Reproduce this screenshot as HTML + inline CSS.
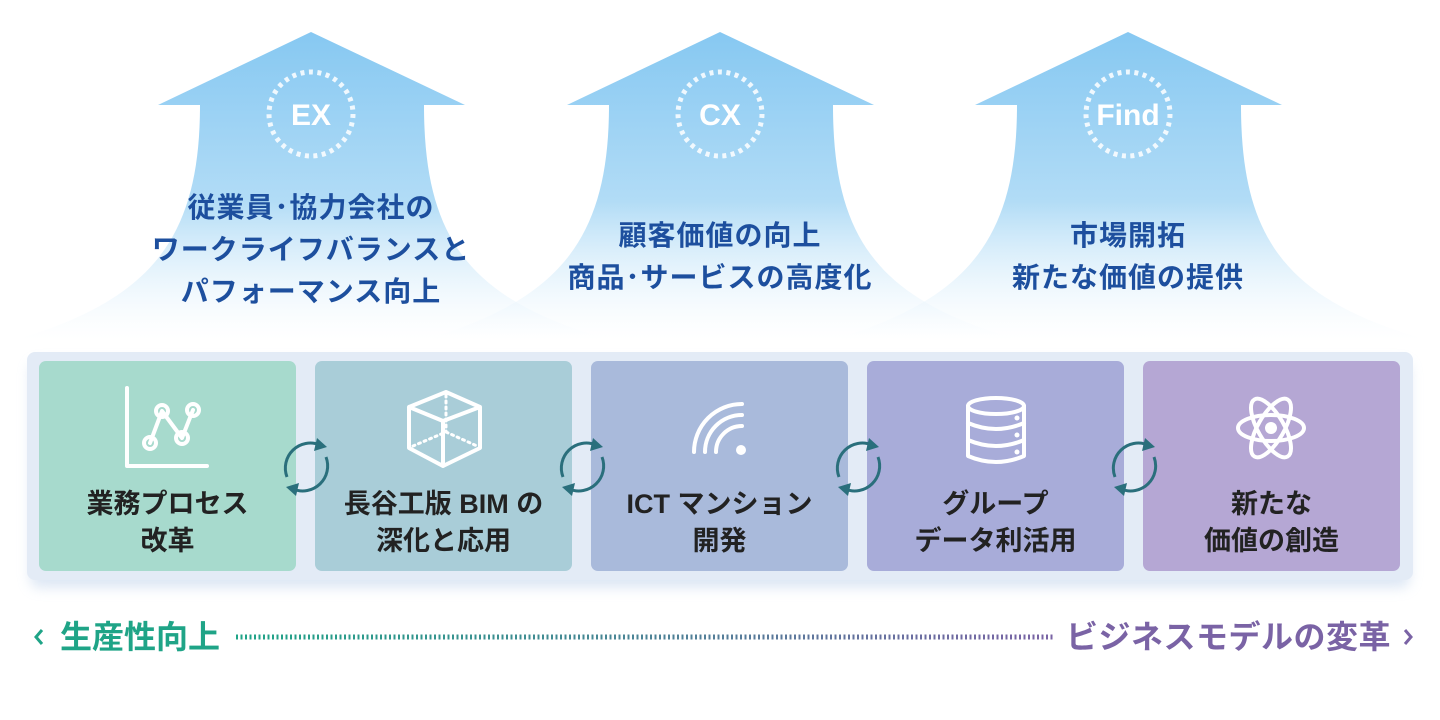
<!DOCTYPE html>
<html><head><meta charset="utf-8"><style>
body{margin:0;width:1440px;height:720px;background:#fff;overflow:hidden;position:relative;font-family:"Liberation Sans","Noto Sans CJK JP",sans-serif}
.t{position:absolute;text-align:center;font-weight:bold;color:#1d4f9e;font-size:28px;line-height:42px;width:440px;letter-spacing:1px}
.b{position:absolute;text-align:center;font-weight:bold;color:#222;font-size:27px;line-height:37px;width:257px;top:486px}
.lbl{position:absolute;font-weight:bold;font-size:32px;top:616px;line-height:42px}
</style></head><body>
<svg width="1440" height="720" style="position:absolute;left:0;top:0">
<defs>
<linearGradient id="g" x1="0" y1="0" x2="0" y2="1">
<stop offset="0" stop-color="#79c2f0"/><stop offset="0.55" stop-color="#a9d8f5"/><stop offset="1" stop-color="#ffffff" stop-opacity="0.3"/></linearGradient>
<filter id="sh" x="-10%" y="-10%" width="120%" height="130%"><feGaussianBlur stdDeviation="6"/></filter>
<linearGradient id="dl" gradientUnits="userSpaceOnUse" x1="236" y1="0" x2="1055" y2="0"><stop offset="0" stop-color="#1fa487"/><stop offset="1" stop-color="#7a63a5"/></linearGradient>
</defs>
<g id="ar">
<path d="M158,105 L311,32 L465,105 L424,105 C424,240 470,300 610,340 L15,340 C150,300 200,240 200,105 Z" fill="url(#g)" opacity="0.9"/>
</g>
<use href="#ar" x="409"/>
<use href="#ar" x="817"/>
<g fill="none" stroke="#fff" stroke-width="5" stroke-dasharray="4 4.5" opacity="0.85">
<circle cx="311" cy="114" r="42"/><circle cx="720" cy="114" r="42"/><circle cx="1128" cy="114" r="42"/></g>
<g fill="#fff" font-weight="bold" font-size="30" text-anchor="middle" font-family="Liberation Sans,sans-serif">
<text x="311" y="125">EX</text><text x="720" y="125">CX</text><text x="1128" y="125">Find</text></g>
<rect x="30" y="362" width="1380" height="226" rx="10" fill="#c7d8ee" opacity="0.6" filter="url(#sh)"/>
<rect x="27" y="352" width="1386" height="228" rx="8" fill="#e3ebf6"/>
<rect x="39" y="361" width="257" height="210" rx="7" fill="#a7dacd"/>
<rect x="315" y="361" width="257" height="210" rx="7" fill="#a9cdd8"/>
<rect x="591" y="361" width="257" height="210" rx="7" fill="#a9badb"/>
<rect x="867" y="361" width="257" height="210" rx="7" fill="#a8acd9"/>
<rect x="1143" y="361" width="257" height="210" rx="7" fill="#b5a7d4"/>
<g fill="none" stroke="#fff" stroke-width="4" stroke-linecap="round" stroke-linejoin="round">
<path d="M127,388 V466 H207"/><path d="M150,443 L162,411 L182,438 L193,410"/>
<circle cx="150" cy="443" r="6"/><circle cx="162" cy="411" r="6"/><circle cx="182" cy="438" r="6"/><circle cx="193" cy="410" r="6"/>
<path d="M409,407 L446,392 L480,407 L480,448 L443,466 L409,448 Z M409,407 L443,421 L480,407 M443,421 V466"/>
<path d="M446,395 V432 M413,446 L446,432 L477,446" stroke-dasharray="2 4" stroke-width="3"/>
<path d="M694,452 A48,48 0 0 1 742,404 M705,452 A37,37 0 0 1 742,415 M716,452 A26,26 0 0 1 742,426"/>
<ellipse cx="996" cy="406" rx="28" ry="8"/><path d="M968,406 V456 Q996,468 1024,456 V406 M968,423 Q996,435 1024,423 M968,440 Q996,452 1024,440"/>
<ellipse cx="1271" cy="428" rx="33" ry="13"/><ellipse cx="1271" cy="428" rx="33" ry="13" transform="rotate(60 1271 428)"/><ellipse cx="1271" cy="428" rx="33" ry="13" transform="rotate(-60 1271 428)"/>
</g>
<g fill="#fff"><circle cx="741" cy="450" r="5"/><circle cx="1271" cy="428" r="6"/><circle cx="1017" cy="418" r="2.5"/><circle cx="1017" cy="435" r="2.5"/><circle cx="1017" cy="452" r="2.5"/></g>
<g id="cy" fill="none" stroke="#2a6f7c" stroke-width="3">
<path d="M287,477 A25,25 0 0 1 320,445"/><path d="M326,457 A25,25 0 0 1 293,489"/>
<path d="M317,438 L327,447 L314,451 Z" fill="#2a6f7c" stroke="none"/>
<path d="M296,496 L286,487 L299,483 Z" fill="#2a6f7c" stroke="none"/>
</g>
<use href="#cy" x="276"/><use href="#cy" x="552"/><use href="#cy" x="828"/>
<line x1="236" y1="637" x2="1055" y2="637" stroke="url(#dl)" stroke-width="5" stroke-dasharray="2 2.5"/>
<path d="M42,630 L36,637 L42,644" fill="none" stroke="#1fa487" stroke-width="3"/>
<path d="M1405,630 L1411,637 L1405,644" fill="none" stroke="#7a63a5" stroke-width="3"/>
</svg>
<div class="t" style="left:91px;top:187px">従業員･協力会社の<br>ワークライフバランスと<br>パフォーマンス向上</div>
<div class="t" style="left:500px;top:215px">顧客価値の向上<br>商品･サービスの高度化</div>
<div class="t" style="left:908px;top:215px">市場開拓<br>新たな価値の提供</div>
<div class="b" style="left:39px">業務プロセス<br>改革</div>
<div class="b" style="left:315px">長谷工版 BIM の<br>深化と応用</div>
<div class="b" style="left:591px">ICT マンション<br>開発</div>
<div class="b" style="left:867px">グループ<br>データ利活用</div>
<div class="b" style="left:1143px">新たな<br>価値の創造</div>
<div class="lbl" style="left:60px;color:#1fa487">生産性向上</div>
<div class="lbl" style="left:1066px;color:#7a63a5;letter-spacing:0.5px">ビジネスモデルの変革</div>
</body></html>
